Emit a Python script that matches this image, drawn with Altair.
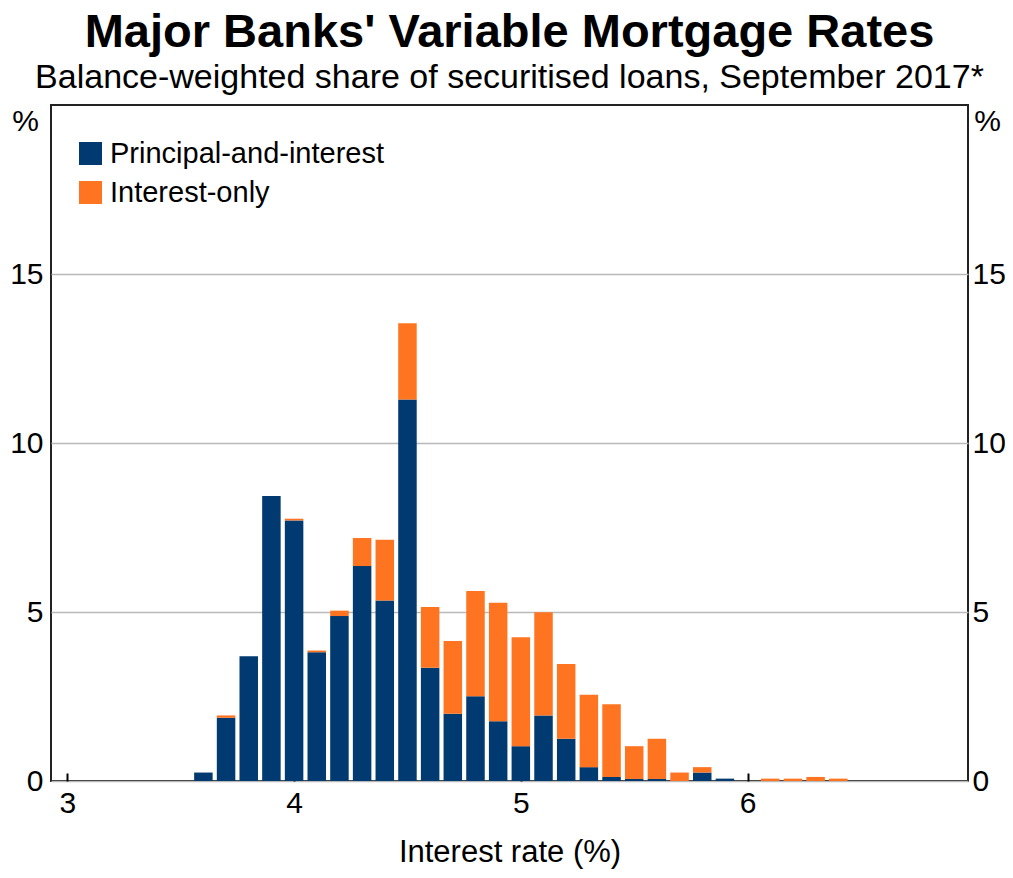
import altair as alt
import pandas as pd

# ---- data ----
rates = [3.6, 3.7, 3.8, 3.9, 4.0, 4.1, 4.2, 4.3, 4.4, 4.5,
         4.6, 4.7, 4.8, 4.9, 5.0, 5.1, 5.2, 5.3, 5.4, 5.5,
         5.6, 5.7, 5.8, 5.9, 6.0, 6.1, 6.2, 6.3, 6.4]
principal_and_interest = [0.25, 1.87, 3.69, 8.43, 7.71, 3.81, 4.88, 6.36, 5.34, 11.29,
                          3.35, 1.99, 2.51, 1.77, 1.03, 1.94, 1.25, 0.41, 0.12, 0.06,
                          0.06, 0.00, 0.25, 0.07, 0.00, 0.00, 0.00, 0.00, 0.00]
interest_only = [0.00, 0.07, 0.00, 0.00, 0.05, 0.05, 0.16, 0.83, 1.80, 2.25,
                 1.80, 2.15, 3.11, 3.50, 3.22, 3.05, 2.21, 2.14, 2.15, 0.97,
                 1.19, 0.25, 0.16, 0.00, 0.00, 0.07, 0.07, 0.12, 0.07]
series_names = ["Principal-and-interest", "Interest-only"]
series_colors = ["#003A70", "#FF7420"]
x_ticks = [3, 4, 5, 6]
y_ticks = [0, 5, 10, 15]

rows = []
for r, pi, io in zip(rates, principal_and_interest, interest_only):
    rows.append({"rate": r, "series": series_names[0], "value": pi, "order": 0})
    rows.append({"rate": r, "series": series_names[1], "value": io, "order": 1})
df = pd.DataFrame(rows)

W, H = 917, 676
FONT = "Liberation Sans"

x_scale = alt.Scale(domain=[2.95, 6.95], nice=False, zero=False)
y_scale = alt.Scale(domain=[0, 20], nice=False)

bars = alt.Chart(df).mark_bar(size=18.5).encode(
    x=alt.X("rate:Q", scale=x_scale,
            axis=alt.Axis(values=x_ticks, format="d", title="Interest rate (%)",
                          ticks=False, domain=False, grid=False,
                          labelFontSize=30, labelPadding=7, labelColor="black",
                          titleFontSize=31, titleFontWeight="normal", titlePadding=19,
                          titleColor="black")),
    y=alt.Y("value:Q", stack="zero", scale=y_scale,
            axis=alt.Axis(values=y_ticks, orient="left", grid=True, gridColor="#b9b9b9",
                          gridWidth=1.5, ticks=False, domain=False,
                          title="%", titleAngle=0, titleAlign="center", titleBaseline="middle",
                          titleX=-26, titleY=16, titleFontSize=30, titleFontWeight="normal",
                          titleColor="black",
                          labelFontSize=30, labelPadding=8, labelColor="black")),
    color=alt.Color("series:N", scale=alt.Scale(domain=series_names, range=series_colors),
                    legend=alt.Legend(orient="none", legendX=25, legendY=34, title=None,
                                      symbolType="square", symbolSize=530, symbolStrokeWidth=0,
                                      symbolOpacity=1, labelFontSize=29, labelColor="black",
                                      labelLimit=0, rowPadding=9, labelOffset=5, padding=0)),
    order=alt.Order("order:Q"),
)

frame_axes = alt.Chart(df).mark_point(opacity=0).encode(
    x=alt.X("rate:Q", scale=x_scale,
            axis=alt.Axis(orient="top", offset=-H, values=x_ticks, labels=False, domain=False,
                          grid=False, ticks=True, tickSize=8, tickWidth=2, tickColor="black",
                          title=None)),
    y=alt.Y("value:Q", scale=y_scale,
            axis=alt.Axis(orient="right", values=y_ticks, grid=False, ticks=False, domain=False,
                          title="%", titleAngle=0, titleAlign="center", titleBaseline="middle",
                          titleX=19, titleY=16, titleFontSize=30, titleFontWeight="normal",
                          titleColor="black",
                          labelFontSize=30, labelPadding=4, labelColor="black")),
)

chart = alt.layer(bars, frame_axes).resolve_scale(
    x="shared", y="shared"
).resolve_axis(
    x="independent", y="independent"
).properties(
    width=W, height=H,
    autosize=alt.AutoSizeParams(type="none"),
    padding={"left": 43, "top": 97, "right": 37, "bottom": 88},
    title=alt.TitleParams(
        text="Major Banks' Variable Mortgage Rates",
        subtitle="Balance-weighted share of securitised loans, September 2017*",
        fontSize=47, fontWeight="bold", color="black", font=FONT,
        subtitleFontSize=34, subtitleColor="black", subtitleFont=FONT,
        subtitlePadding=4, anchor="middle", offset=9,
    ),
).configure(
    font=FONT,
).configure_view(
    stroke="#222222", strokeWidth=2,
).configure_axis(
    labelFont=FONT, titleFont=FONT,
).configure_legend(
    labelFont=FONT,
)

chart.save("out.html", embed_options={"renderer": "svg", "actions": False})
